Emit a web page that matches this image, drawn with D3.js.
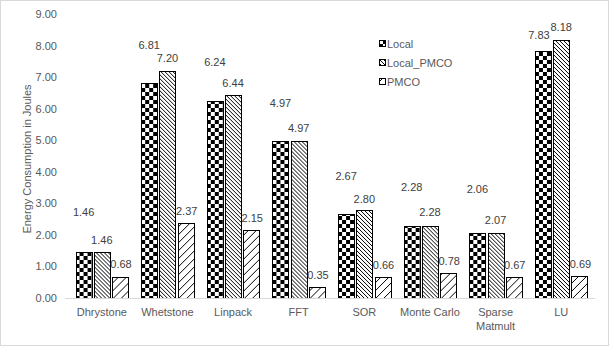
<!DOCTYPE html>
<html><head><meta charset="utf-8">
<script src="https://cdn.jsdelivr.net/npm/d3@7"></script>
<style>body{margin:0;background:#fff}svg{display:block}</style>
</head><body><svg id="c" width="609" height="346"></svg>
<script>
const categories = ["Dhrystone","Whetstone","Linpack","FFT","SOR","Monte Carlo","Sparse Matmult","LU"];
const seriesNames = ["Local","Local_PMCO","PMCO"];
const localVals = [1.46,6.81,6.24,4.97,2.67,2.28,2.06,7.83];
const localPmcoVals = [1.46,7.20,6.44,4.97,2.80,2.28,2.07,8.18];
const pmcoVals = [0.68,2.37,2.15,0.35,0.66,0.78,0.67,0.69];
const yTickValues = [0,1,2,3,4,5,6,7,8,9];
const yTitle = "Energy Consumption in Joules";
// label nudges (px above bar top) as placed in the original
const localLabelLift = [40,38,39,38,38,39,44,16];
const localLabelShift = [0,0,0,0,0,0,0,-4];
const lpLabelLift = [12,13,12,13,10,14,13,13];
const pmcoLabelLift = [12,12,12,12,12,12,12,12];

const seriesValues = [localVals, localPmcoVals, pmcoVals];
const svg = d3.select("#c");
const font = "'Liberation Sans', Arial, sans-serif";

// border
svg.append("rect").attr("x",0.5).attr("y",0.5).attr("width",608).attr("height",345)
  .attr("fill","#fff").attr("stroke","#d9d9d9");

// patterns
const defs = svg.append("defs");
function pattern(id, size, pixels){
  const p = defs.append("pattern").attr("id",id).attr("patternUnits","userSpaceOnUse")
    .attr("width",size).attr("height",size);
  p.append("rect").attr("width",size).attr("height",size).attr("fill","#fff");
  pixels.forEach(([x,y,w,h])=>p.append("rect").attr("x",x).attr("y",y).attr("width",w||1).attr("height",h||1).attr("fill","#000"));
}
pattern("pLocal", 8, [[0,0,4,4],[4,4,4,4]]);
pattern("pLP", 4, d3.range(4).map(i=>[i,i]));
pattern("pPM", 8, d3.range(8).map(i=>[i,7-i]));
const fills = ["url(#pLocal)","url(#pLP)","url(#pPM)"];

const x0 = d3.scaleBand().domain(categories).range([69,594]).paddingInner(0.2).paddingOuter(0.1);
const x1 = d3.scaleBand().domain(seriesNames).range([0, x0.bandwidth()]).paddingInner(0.12);
const y = d3.scaleLinear().domain([0,9]).range([298,14]);

// y axis ticks (labels only)
const yAxis = d3.axisLeft(y).tickValues(yTickValues).tickFormat(d3.format(".2f")).tickSize(0).tickPadding(0);
const gy = svg.append("g").attr("transform","translate(57,0)").call(yAxis);
gy.select(".domain").remove();
gy.selectAll("text").attr("fill","#595959").attr("font-family",font).attr("font-size",11);

// bars
const groups = svg.append("g").selectAll("g").data(categories).join("g")
  .attr("transform",d=>`translate(${x0(d)},0)`);
seriesNames.forEach((s,si)=>{
  groups.append("rect")
    .attr("x", x1(s)+0.5)
    .attr("y", (d,i)=>Math.round(y(seriesValues[si][i]))+0.5)
    .attr("width", Math.round(x1.bandwidth()))
    .attr("height",(d,i)=>Math.round(y(0))-Math.round(y(seriesValues[si][i])))
    .attr("fill",fills[si]).attr("stroke","#000").attr("stroke-width",1)
    .attr("shape-rendering","crispEdges");
});

// x axis line
const xAxis = d3.axisBottom(x0).tickSize(0).tickPadding(0);
const gx = svg.append("g").attr("transform",`translate(0,${Math.round(y(0))+0.5})`).call(xAxis);
gx.select(".domain").attr("stroke","#d9d9d9").attr("d",`M65,0H595`);
gx.selectAll("text").remove();
gx.selectAll(".tick").each(function(d){
  const t = d3.select(this).append("text").attr("fill","#595959").attr("font-family",font)
    .attr("font-size",11).attr("text-anchor","middle");
  t.text(d);
  if (t.node().getComputedTextLength() > x0.step()) {
    t.text(null);
    d.split(" ").forEach((w,k)=>t.append("tspan").attr("x",0).attr("y",17+k*14).text(w));
  } else t.attr("y",17);
});

// value labels (separate layer on top of all bars)
const lgroups = svg.append("g").selectAll("g").data(categories).join("g")
  .attr("transform",d=>`translate(${x0(d)},0)`);
const lblFont = (sel)=>sel.attr("fill","#404040").attr("font-family",font).attr("font-size",11)
  .attr("dy","0.35em").attr("text-anchor","middle");
lgroups.append("text").call(lblFont)
  .attr("x",(d,i)=>x1("Local")+x1.bandwidth()/2+localLabelShift[i])
  .attr("y",(d,i)=>y(localVals[i])-localLabelLift[i])
  .text((d,i)=>localVals[i].toFixed(2));
lgroups.append("text").call(lblFont)
  .attr("x",x1("Local_PMCO")+x1.bandwidth()/2)
  .attr("y",(d,i)=>y(localPmcoVals[i])-lpLabelLift[i])
  .text((d,i)=>localPmcoVals[i].toFixed(2));
lgroups.append("text").call(lblFont)
  .attr("x",x1("PMCO")+x1.bandwidth()/2+1)
  .attr("y",(d,i)=>y(pmcoVals[i])-pmcoLabelLift[i])
  .text((d,i)=>pmcoVals[i].toFixed(2));

// y title
svg.append("text").attr("transform","translate(31,159) rotate(-90)").attr("text-anchor","middle")
  .attr("fill","#595959").attr("font-family",font).attr("font-size",11).text(yTitle);

// legend
const lg = svg.append("g").selectAll("g").data(seriesNames).join("g")
  .attr("transform",(d,i)=>`translate(379,${[44,63,82][i]})`);
lg.append("rect").attr("x",0.5).attr("y",-3.5).attr("width",6).attr("height",6)
  .attr("fill",(d,i)=>fills[i]).attr("stroke","#000").attr("shape-rendering","crispEdges");
lg.append("text").attr("x",8).attr("dy","0.35em").attr("fill","#595959")
  .attr("font-family",font).attr("font-size",11).text(d=>d);
</script></body></html>
